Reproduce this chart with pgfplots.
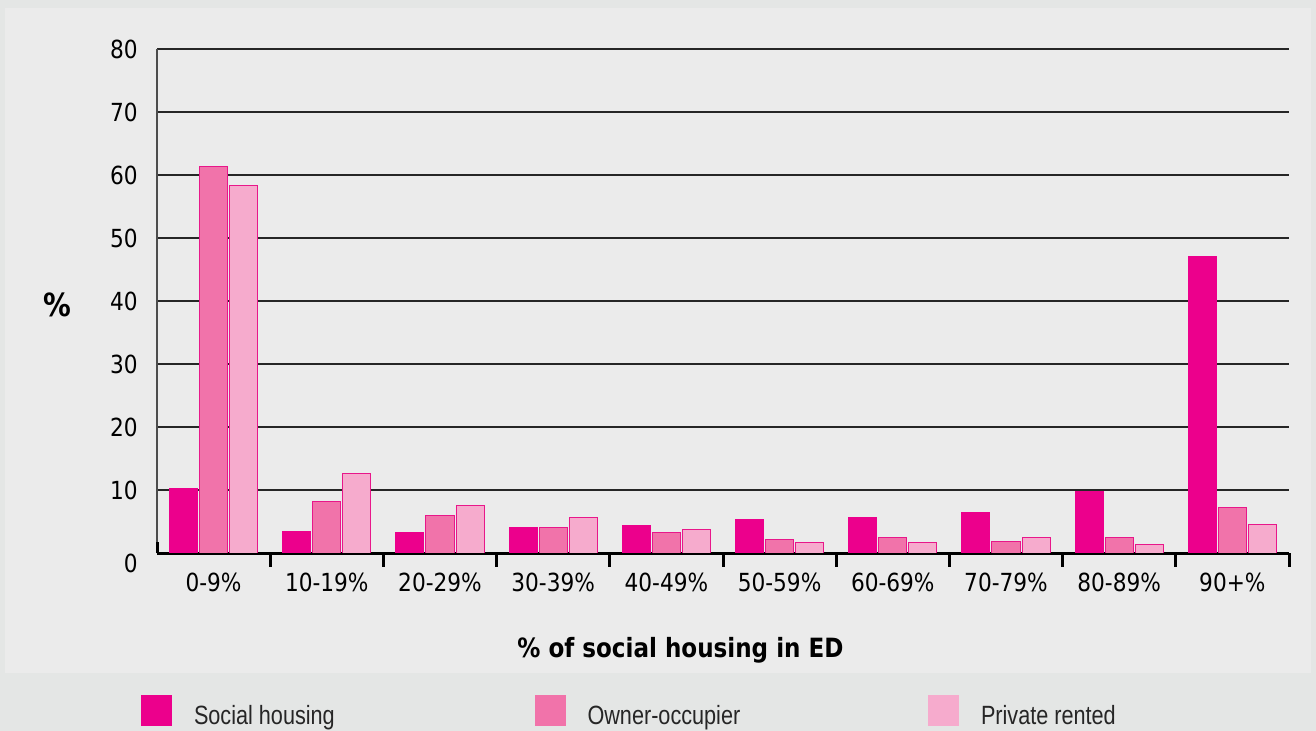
\documentclass[border=0pt]{standalone}
\usepackage{fontspec}
\setmainfont{DejaVu Sans}[FakeStretch=0.87]
\newfontfamily\legfont{Liberation Sans}[FakeStretch=0.82]
\usepackage{pgfplots}
\usepackage{pgfplotstable}
\pgfplotsset{compat=1.18}
\definecolor{band}{HTML}{E4E6E5}
\definecolor{panel}{HTML}{EBEBEB}
\definecolor{social}{HTML}{EC008C}
\definecolor{owner}{HTML}{F173AA}
\definecolor{private}{HTML}{F6ABCD}
\definecolor{edge}{HTML}{E8178A}
\pgfplotstableread{
x social owner private
0 10.3 61.4 58.3
1 3.4 8.1 12.6
2 3.3 5.9 7.5
3 4.0 4.1 5.6
4 4.3 3.2 3.8
5 5.3 2.2 1.7
6 5.6 2.5 1.6
7 6.4 1.8 2.5
8 9.8 2.5 1.3
9 47.0 7.3 4.5
}\datatable
\pgfplotsset{sq/.style={legend image code/.code={\fill[##1, draw=none] (0bp,-4.75bp) rectangle (15.5bp,10.75bp); \path[draw=none, fill=none] (0bp,-12bp) rectangle (26.5bp,12bp);}}}
\begin{document}
\begin{tikzpicture}
\fill[band] (0,0) rectangle (658bp,365.5bp);
\fill[panel] (2.5bp,29bp) rectangle (655.5bp,361.5bp);
\begin{axis}[
 at={(78.5bp,89bp)}, anchor=south west,
 scale only axis, width=566bp, height=252bp,
 xmin=-0.5, xmax=9.5, ymin=0, ymax=80,
 ybar=1bp, bar width=14bp,
 axis lines*=left,
 x axis line style={line width=1.5bp, black},
 y axis line style={line width=0.75bp, black!70},
 xtick={0,...,9},
 xticklabels={0-9\%,10-19\%,20-29\%,30-39\%,40-49\%,50-59\%,60-69\%,70-79\%,80-89\%,90+\%},
 minor xtick={0.5,1.5,...,9.5},
 major tick length=0pt,
 minor tick length=7bp,
 tick align=outside,
 every minor tick/.style={line width=1.5bp, black},
 extra x ticks={-0.5}, extra x tick labels={},
 extra x tick style={major tick length=5.5bp, tick align=inside, every major tick/.append style={line width=1.5bp, black}},
 ytick={10,20,...,80},
 extra y ticks={0}, extra y tick style={yticklabel style={yshift=-5bp}, grid=none},
 ymajorgrids, grid style={line width=0.75bp, black!85},
 /pgf/number format/assume math mode=true,
 tick label style={font=\fontsize{12.5}{14}\selectfont, text=black},
 xticklabel style={anchor=north, inner sep=0pt, yshift=-10bp},
 yticklabel style={anchor=east, inner sep=0pt, xshift=-9.5bp},
 xlabel={\% of social housing in ED},
 xlabel style={at={(axis description cs:0.4624,-0.1925)}, anchor=center, font=\fontsize{13.3}{15}\selectfont\bfseries},
 ylabel={\%},
 ylabel style={rotate=-90, at={(axis description cs:-0.0879,0.493)}, anchor=center, font=\fontsize{16}{18}\selectfont\bfseries},
 legend columns=3,
 legend style={at={(axis description cs:-0.01413,-0.3244)}, anchor=west, draw=none, fill=none, inner sep=0pt, outer sep=0pt, column sep=0pt, row sep=0pt, font=\legfont\fontsize{13.25}{15}\selectfont, text=black!85, nodes={inner sep=0pt}},
]
\addplot[fill=social, draw=social, line width=0.5bp, sq] table[x=x, y=social] {\datatable};
\addlegendentry{\makebox[170.25bp][l]{Social housing}}
\addplot[fill=owner, draw=edge, line width=0.5bp, sq] table[x=x, y=owner] {\datatable};
\addlegendentry{\makebox[170.25bp][l]{Owner-occupier}}
\addplot[fill=private, draw=edge, line width=0.5bp, sq] table[x=x, y=private] {\datatable};
\addlegendentry{\makebox[170.25bp][l]{Private rented}}
\end{axis}
\pgfresetboundingbox
\path[use as bounding box] (0,0) rectangle (658bp,365.5bp);
\end{tikzpicture}
\end{document}
